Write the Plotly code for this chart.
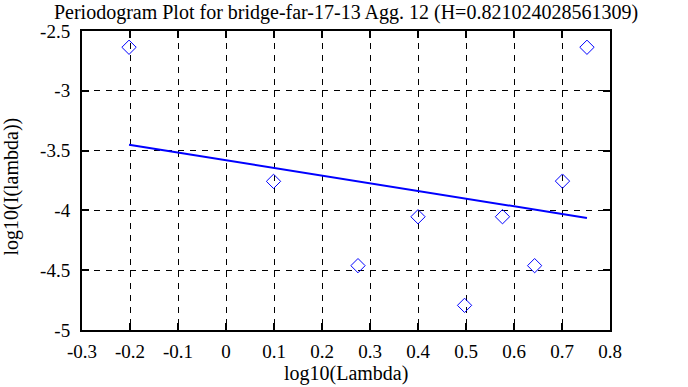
import plotly.graph_objects as go

# Data
log_lambda = [-0.202, 0.099, 0.275, 0.400, 0.497, 0.576, 0.643, 0.701, 0.752]
log_periodogram = [-2.636, -3.757, -4.462, -4.053, -4.794, -4.053, -4.462, -3.755, -2.636]

H = 0.821024028561309
fit_slope = 1 - 2 * H
fit_intercept = -3.5806
fit_x = [log_lambda[0], log_lambda[-1]]
fit_y = [fit_intercept + fit_slope * v for v in fit_x]

x_ticks = [-0.3, -0.2, -0.1, 0, 0.1, 0.2, 0.3, 0.4, 0.5, 0.6, 0.7, 0.8]
x_tick_labels = ["-0.3", "-0.2", "-0.1", "0", "0.1", "0.2", "0.3", "0.4", "0.5", "0.6", "0.7", "0.8"]
y_ticks = [-5, -4.5, -4, -3.5, -3, -2.5]
y_tick_labels = ["-5", "-4.5", "-4", "-3.5", "-3", "-2.5"]

title_text = "Periodogram Plot for bridge-far-17-13 Agg. 12 (H=0.821024028561309)"
x_title = "log10(Lambda)"
y_title = "log10(I(lambda))"

FONT = "Liberation Serif"
W, H_PX = 688, 387
ML, MR, MT, MB = 82, 78, 31, 57
PW, PH = W - ML - MR, H_PX - MT - MB

fig = go.Figure()
fig.add_trace(go.Scatter(
    x=log_lambda, y=log_periodogram, mode="markers",
    marker=dict(symbol="diamond-open", size=11, color="#0000ff",
                line=dict(width=1, color="#0000ff")),
    showlegend=False, hoverinfo="skip"))
fig.add_trace(go.Scatter(
    x=fit_x, y=fit_y, mode="lines",
    line=dict(color="#0000ff", width=2),
    showlegend=False, hoverinfo="skip"))

axis_common = dict(
    showline=True, linecolor="black", linewidth=2, mirror="allticks",
    ticks="inside", ticklen=7, tickwidth=2, tickcolor="black",
    showgrid=True, gridcolor="black", gridwidth=1, griddash="6px,6px",
    zeroline=False, automargin=False,
    tickfont=dict(family=FONT, size=19, color="black"),
)

fig.update_xaxes(range=[-0.3, 0.8], tickvals=x_ticks, ticktext=x_tick_labels,
                 ticklabelstandoff=3, **axis_common)
fig.update_yaxes(range=[-5, -2.5], tickvals=y_ticks, ticktext=y_tick_labels,
                 ticklabelstandoff=6, **axis_common)

fig.add_annotation(text=x_title, xref="paper", yref="paper",
                   x=0.5, y=(0 - (374 - (MT + PH))) / PH,
                   xanchor="center", yanchor="middle", showarrow=False,
                   font=dict(family=FONT, size=20, color="black"))
fig.add_annotation(text=y_title, xref="paper", yref="paper",
                   x=(11 - ML) / PW, y=0.48, textangle=-90,
                   xanchor="center", yanchor="middle", showarrow=False,
                   font=dict(family=FONT, size=20, color="black"))

fig.update_layout(
    width=W, height=H_PX,
    margin=dict(l=ML, r=MR, t=MT, b=MB, pad=0),
    paper_bgcolor="white", plot_bgcolor="white",
    font=dict(family=FONT, size=20, color="black"),
    title=dict(text=title_text, x=(ML + PW / 2) / W, xanchor="center",
               y=1 - 12 / H_PX, yanchor="middle", yref="container",
               font=dict(family=FONT, size=20, color="black")),
)

fig.write_html("out.html",
               config={"displayModeBar": False, "staticPlot": True},
               post_script="document.body.style.margin='0';document.body.style.padding='0';")
